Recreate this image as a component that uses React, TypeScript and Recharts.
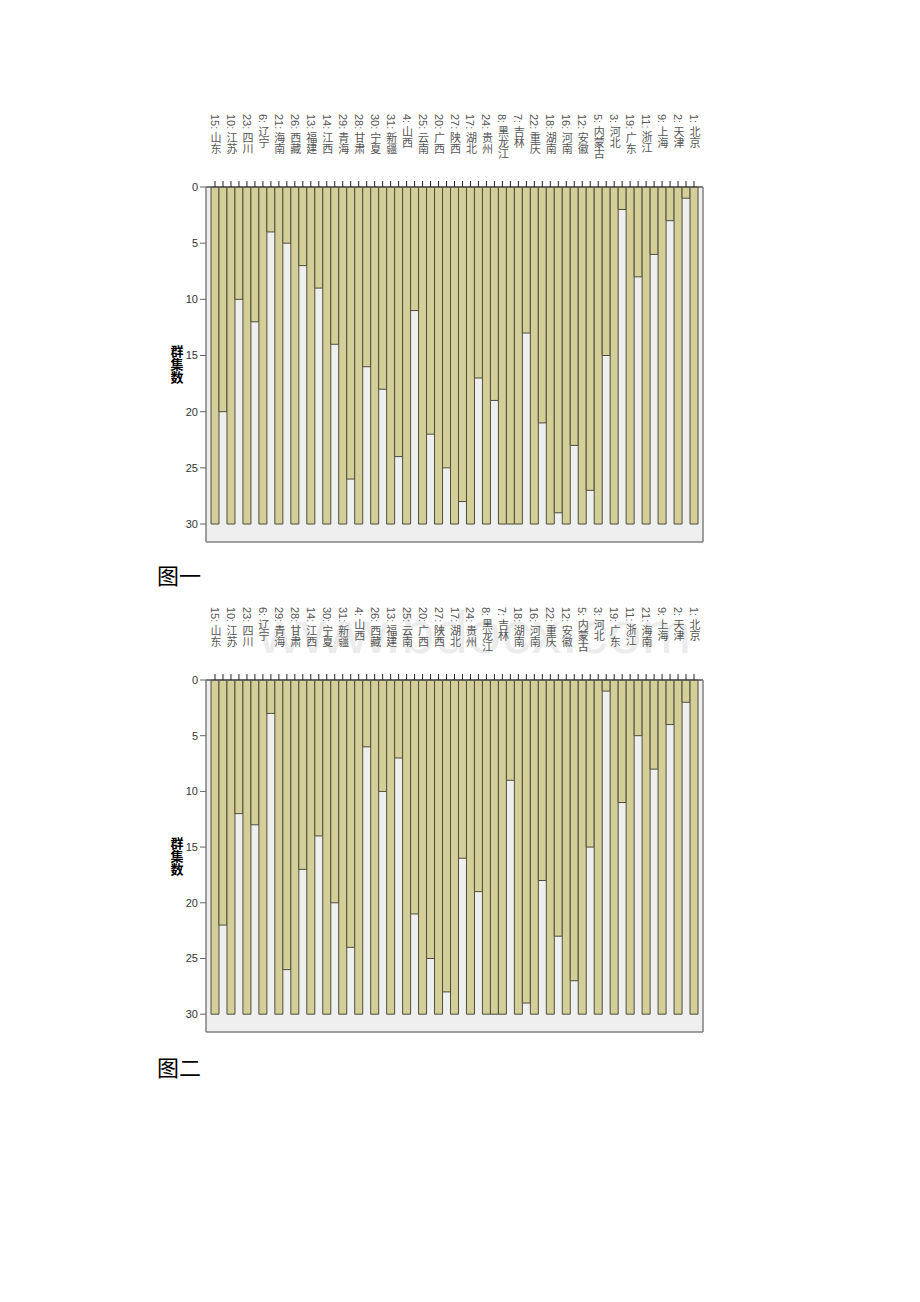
import React from 'react';
import { BarChart, Bar, XAxis, YAxis, CartesianGrid, Label } from 'recharts';

// case order (left to right) and join levels between neighbours
const casesOne = [
  '15: 山东', '10: 江苏', '23: 四川', '6: 辽宁', '21: 海南', '26: 西藏', '13: 福建', '14: 江西',
  '29: 青海', '28: 甘肃', '30: 宁夏', '31: 新疆', '4: 山西', '25: 云南', '20: 广西', '27: 陕西',
  '17: 湖北', '24: 贵州', '8: 黑龙江', '7: 吉林', '22: 重庆', '18: 湖南', '16: 河南', '12: 安徽',
  '5: 内蒙古', '3: 河北', '19: 广东', '11: 浙江', '9: 上海', '2: 天津', '1: 北京',
];
const joinsOne = [20, 10, 12, 4, 5, 7, 9, 14, 26, 16, 18, 24, 11, 22, 25, 28, 17, 19, 30, 13, 21, 29, 23, 27, 15, 2, 8, 6, 3, 1];

const casesTwo = [
  '15: 山东', '10: 江苏', '23: 四川', '6: 辽宁', '29: 青海', '28: 甘肃', '14: 江西', '30: 宁夏',
  '31: 新疆', '4: 山西', '26: 西藏', '13: 福建', '25: 云南', '20: 广西', '27: 陕西', '17: 湖北',
  '24: 贵州', '8: 黑龙江', '7: 吉林', '18: 湖南', '16: 河南', '22: 重庆', '12: 安徽', '5: 内蒙古',
  '3: 河北', '19: 广东', '11: 浙江', '21: 海南', '9: 上海', '2: 天津', '1: 北京',
];
const joinsTwo = [22, 12, 13, 3, 26, 17, 14, 20, 24, 6, 10, 7, 21, 25, 28, 16, 19, 30, 9, 29, 18, 23, 27, 15, 1, 11, 5, 8, 4, 2];

const maxClusters = 30;
const yTicks = [0, 5, 10, 15, 20, 25, 30];

const FONT = '"Liberation Sans", Arial, "Noto Sans CJK SC", sans-serif';

interface Row {
  key: string;
  label: string;
  level: number;
}

const buildRows = (cases: string[], joins: number[]): Row[] => {
  const rows: Row[] = [];
  cases.forEach((name, i) => {
    rows.push({ key: 'c' + i, label: name, level: maxClusters });
    if (i < joins.length) rows.push({ key: 'g' + i, label: '', level: joins[i] });
  });
  return rows;
};

const Icicle: React.FC<{ rows: Row[]; height: number }> = ({ rows, height }) => {
  const labels: Record<string, string> = {};
  rows.forEach((r) => (labels[r.key] = r.label));

  const CaseTick = (props: any) => {
    const { x, y, payload } = props;
    const text = labels[payload.value];
    if (!text) return <g />;
    return (
      <text
        x={x}
        y={y - 65}
        fill="#555"
        fontSize={11}
        fontFamily={FONT}
        style={{ writingMode: 'vertical-rl' }}
      >
        {text}
      </text>
    );
  };

  const frame = { stroke: '#808080', strokeWidth: 1.5 };

  return (
    <BarChart
      width={920}
      height={height}
      data={rows}
      barCategoryGap={0}
      barGap={0}
      margin={{ top: 107, right: 216, bottom: 12, left: 166 }}
    >
      <CartesianGrid fill="#efefef" horizontal={false} vertical={false} />
      <XAxis
        dataKey="key"
        orientation="top"
        height={80}
        interval={0}
        tickSize={6}
        padding={{ left: 5, right: 5 }}
        tickLine={{ stroke: '#222' }}
        axisLine={{ stroke: '#555', strokeWidth: 1.5 }}
        tick={<CaseTick />}
      />
      <XAxis xAxisId="frame" dataKey="key" orientation="bottom" height={1} tick={false} tickLine={false} axisLine={frame} />
      <YAxis
        reversed
        domain={[0, 31.6]}
        ticks={yTicks}
        width={40}
        tickSize={6}
        tickLine={{ stroke: '#666' }}
        axisLine={frame}
        tick={{ fill: '#333', fontSize: 11, fontFamily: FONT }}
      >
        <Label
          content={(p: any) => {
            const vb = p.viewBox || {};
            return (
              <text
                x={vb.x + 11}
                y={vb.y + vb.height / 2}
                textAnchor="middle"
                fontSize={13}
                fontWeight="bold"
                fill="#000"
                fontFamily='"Noto Sans CJK SC", sans-serif'
                style={{ writingMode: 'vertical-rl' }}
              >
                群集数
              </text>
            );
          }}
        />
      </YAxis>
      <YAxis yAxisId="frame" orientation="right" width={1} domain={[0, 31.6]} tick={false} tickLine={false} axisLine={frame} />
      <Bar dataKey="level" fill="#d4cf98" stroke="#4e4e3c" strokeWidth={1} isAnimationActive={false} />
    </BarChart>
  );
};

const captionStyle: React.CSSProperties = {
  position: 'absolute',
  left: 157,
  fontSize: 22,
  fontFamily: '"Noto Sans CJK SC", serif',
  color: '#000',
  lineHeight: '24px',
};

export default function App() {
  const rowsOne = buildRows(casesOne, joinsOne);
  const rowsTwo = buildRows(casesTwo, joinsTwo);
  return (
    <div style={{ position: 'absolute', left: 0, top: 0, width: 920, height: 1302, background: '#fff' }}>
      <svg style={{ position: 'absolute', left: 0, top: 0 }} width={920} height={1302}>
        <text x={258} y={653} fontSize={60} fontFamily={FONT} fill="#ececec">
          www.bdocx.com
        </text>
      </svg>
      <div style={{ position: 'absolute', left: 0, top: 0 }}>
        <Icicle rows={rowsOne} height={555} />
      </div>
      <div style={captionStyle}>
        <span style={{ position: 'absolute', top: 562, whiteSpace: 'nowrap' }}>图一</span>
      </div>
      <div style={{ position: 'absolute', left: 0, top: 493 }}>
        <Icicle rows={rowsTwo} height={552} />
      </div>
      <div style={captionStyle}>
        <span style={{ position: 'absolute', top: 1054, whiteSpace: 'nowrap' }}>图二</span>
      </div>
    </div>
  );
}
